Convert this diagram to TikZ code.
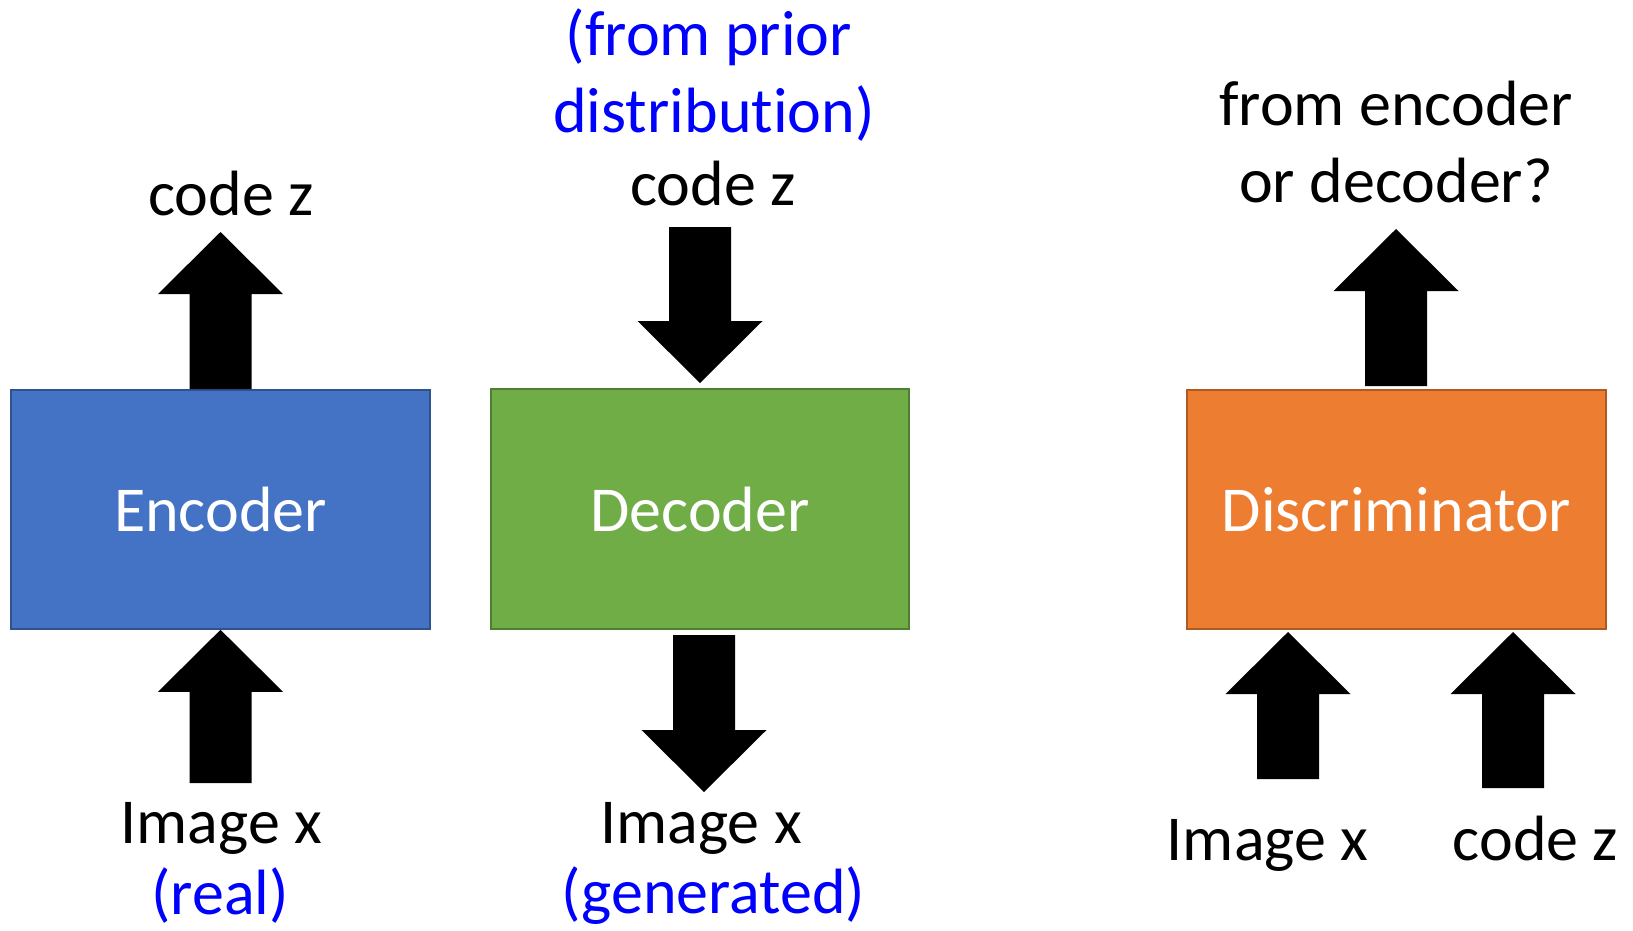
\documentclass[tikz,border=0pt]{standalone}
\usepackage{fontspec}
\setmainfont{Carlito}[Ligatures=NoCommon]
\usetikzlibrary{calc}

\definecolor{encfill}{HTML}{4472C4}
\definecolor{encline}{HTML}{2F528F}
\definecolor{decfill}{HTML}{70AD47}
\definecolor{decline}{HTML}{507E32}
\definecolor{disfill}{HTML}{ED7D31}
\definecolor{disline}{HTML}{AE5A21}
\definecolor{notecol}{HTML}{0000FF}

% thick block arrow from #1 (tail) to #2 (tip)
\newcommand\blockarrow[2]{%
  \coordinate (hb) at ($(#2)!62pt!(#1)$);
  \fill[black]
    ($(#1)!31pt!90:(#2)$) -- ($(hb)!31pt!90:(#2)$) -- ($(hb)!62.5pt!90:(#2)$)
    -- (#2)
    -- ($(hb)!62.5pt!-90:(#2)$) -- ($(hb)!31pt!-90:(#2)$) -- ($(#1)!31pt!-90:(#2)$)
    -- cycle;
}

\begin{document}
\begin{tikzpicture}[x=1pt,y=-1pt,
  every node/.style={font=\fontsize{64}{77}\selectfont},
  block/.style={draw, line width=1.6pt, minimum width=419pt, minimum height=239pt,
    text=white, inner sep=0pt},
  lbl/.style={anchor=base, inner sep=0pt, text=black},
  note/.style={anchor=base, inner sep=0pt, text=notecol}]
\useasboundingbox (0,0) rectangle (1633,930);

% boxes
\node[block, fill=encfill, draw=encline] (enc) at (220.5,509.5) {Encoder};
\node[block, fill=decfill, draw=decline, minimum width=418pt, minimum height=240pt] (dec) at (700,509) {Decoder};
\node[block, fill=disfill, draw=disline] (dis) at (1396.5,509.5) {Discriminator};

% encoder labels
\node[lbl] (enc-z) at (231,215) {code z};
\node[lbl] (enc-x) at (221.5,843) {Image x};
\node[note] (enc-real) at (220,914) {(real)};

% decoder labels
\node[note] (dec-p1) at (709,55) {(from prior};
\node[note] (dec-p2) at (714,132) {distribution)};
\node[lbl] (dec-z) at (713,205) {code z};
\node[lbl] (dec-x) at (701,843) {Image x};
\node[note] (dec-gen) at (713.5,913) {(generated)};

% discriminator labels
\node[lbl] (dis-q1) at (1396,125) {from encoder};
\node[lbl] (dis-q2) at (1396,202) {or decoder?};
\node[lbl] (dis-x) at (1267.5,860) {Image x};
\node[lbl] (dis-z) at (1535.5,860) {code z};

% arrow end points
\coordinate (enc-out) at (220.5,232);
\coordinate (enc-in) at (220.5,783);
\coordinate (dec-in-t) at (700,227);
\coordinate (dec-in-h) at (700,383);
\coordinate (dec-out-t) at (704,635);
\coordinate (dec-out-h) at (704,792);
\coordinate (dis-out-t) at (1396,386);
\coordinate (dis-out-h) at (1396,229);
\coordinate (dis-x-t) at (1288,779);
\coordinate (dis-x-h) at (1288,632);
\coordinate (dis-z-t) at (1513,788);
\coordinate (dis-z-h) at (1513,632);

% arrows
\blockarrow{enc.north}{enc-out}
\blockarrow{enc-in}{enc.south}
\blockarrow{dec-in-t}{dec-in-h}
\blockarrow{dec-out-t}{dec-out-h}
\blockarrow{dis-out-t}{dis-out-h}
\blockarrow{dis-x-t}{dis-x-h}
\blockarrow{dis-z-t}{dis-z-h}
\end{tikzpicture}
\end{document}
